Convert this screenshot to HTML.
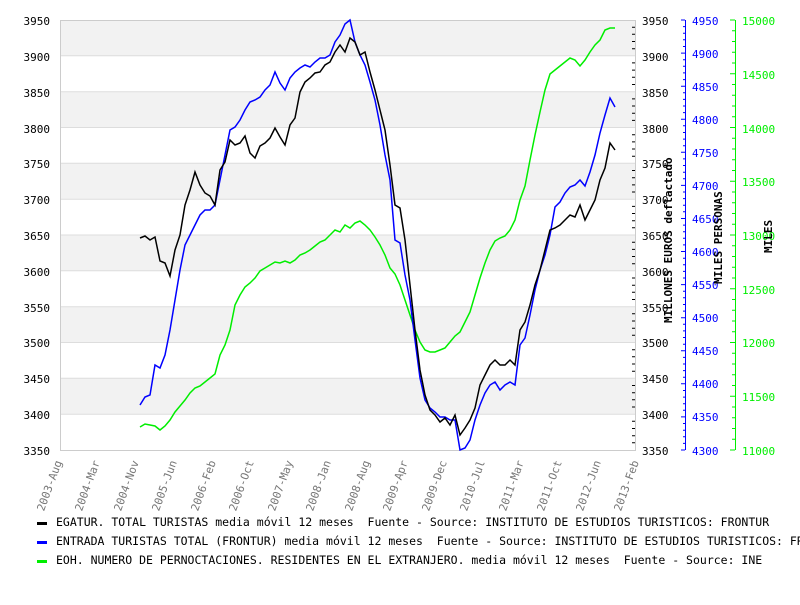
<!DOCTYPE html>
<html><head><meta charset="utf-8"><style>
body{margin:0;background:#fff;width:800px;height:600px;overflow:hidden}
text{font-family:"DejaVu Sans Mono","Liberation Mono",monospace;font-size:11px}
.lg{font-size:11.5px}
</style></head><body>
<svg width="800" height="600" viewBox="0 0 800 600" xmlns="http://www.w3.org/2000/svg">
<rect x="0" y="0" width="800" height="600" fill="#fff"/>
<g fill="#f2f2f2">
<rect x="60" y="20" width="575" height="35.8"/>
<rect x="60" y="91.7" width="575" height="35.8"/>
<rect x="60" y="163.3" width="575" height="35.8"/>
<rect x="60" y="235" width="575" height="35.8"/>
<rect x="60" y="306.7" width="575" height="35.8"/>
<rect x="60" y="378.3" width="575" height="35.8"/>
</g>
<g stroke="#ddd" stroke-width="1">
<line x1="60" y1="55.8" x2="635" y2="55.8"/><line x1="60" y1="91.7" x2="635" y2="91.7"/>
<line x1="60" y1="127.5" x2="635" y2="127.5"/><line x1="60" y1="163.3" x2="635" y2="163.3"/>
<line x1="60" y1="199.2" x2="635" y2="199.2"/><line x1="60" y1="235" x2="635" y2="235"/>
<line x1="60" y1="270.8" x2="635" y2="270.8"/><line x1="60" y1="306.7" x2="635" y2="306.7"/>
<line x1="60" y1="342.5" x2="635" y2="342.5"/><line x1="60" y1="378.3" x2="635" y2="378.3"/>
<line x1="60" y1="414.2" x2="635" y2="414.2"/>
</g>
<rect x="60.5" y="20.5" width="575" height="430" fill="none" stroke="#ccc"/>
<g text-anchor="end" fill="#000">
<text x="50" y="25">3950</text><text x="50" y="61">3900</text><text x="50" y="97">3850</text><text x="50" y="133">3800</text><text x="50" y="168">3750</text><text x="50" y="204">3700</text><text x="50" y="240">3650</text><text x="50" y="276">3600</text><text x="50" y="312">3550</text><text x="50" y="347">3500</text><text x="50" y="383">3450</text><text x="50" y="419">3400</text><text x="50" y="455">3350</text>
</g>
<g fill="#000">
<text x="642" y="25">3950</text><text x="642" y="61">3900</text><text x="642" y="97">3850</text><text x="642" y="133">3800</text><text x="642" y="168">3750</text><text x="642" y="204">3700</text><text x="642" y="240">3650</text><text x="642" y="276">3600</text><text x="642" y="312">3550</text><text x="642" y="347">3500</text><text x="642" y="383">3450</text><text x="642" y="419">3400</text><text x="642" y="455">3350</text>
</g>
<g stroke="#000">
<path d="M632 27.2h3M632 34.3h3M632 41.5h3M632 48.7h3M632 62.9h3M632 70.1h3M632 77.3h3M632 84.5h3M632 98.9h3M632 106h3M632 113.2h3M632 120.4h3M632 134.7h3M632 141.9h3M632 149h3M632 156.2h3M632 170.5h3M632 177.7h3M632 184.9h3M632 192h3M632 206.4h3M632 213.5h3M632 220.7h3M632 227.8h3M632 242.2h3M632 249.4h3M632 256.5h3M632 263.7h3M632 278h3M632 285.2h3M632 292.3h3M632 299.5h3M632 313.8h3M632 321h3M632 328.2h3M632 335.3h3M632 349.7h3M632 356.8h3M632 364h3M632 371.2h3M632 385.5h3M632 392.7h3M632 399.8h3M632 407h3M632 421.3h3M632 428.5h3M632 435.7h3M632 442.8h3"/>
</g>
<line x1="685.5" y1="20" x2="685.5" y2="450" stroke="#00f"/>
<g stroke="#00f"><path d="M681 20h4M681 53.1h4M681 86.2h4M681 119.2h4M681 152.3h4M681 185.4h4M681 218.5h4M681 251.5h4M681 284.6h4M681 317.7h4M681 350.8h4M681 383.8h4M681 416.9h4M681 450h4M683 26.6h2M683 33.2h2M683 39.8h2M683 46.5h2M683 59.7h2M683 66.3h2M683 72.9h2M683 79.6h2M683 92.8h2M683 99.4h2M683 106h2M683 112.6h2M683 125.8h2M683 132.5h2M683 139.1h2M683 145.7h2M683 158.9h2M683 165.5h2M683 172.2h2M683 178.8h2M683 192h2M683 198.6h2M683 205.2h2M683 211.8h2M683 225.1h2M683 231.7h2M683 238.3h2M683 244.9h2M683 258.2h2M683 264.8h2M683 271.4h2M683 278h2M683 291.2h2M683 297.8h2M683 304.5h2M683 311.1h2M683 324.3h2M683 330.9h2M683 337.5h2M683 344.2h2M683 357.4h2M683 364h2M683 370.6h2M683 377.2h2M683 390.5h2M683 397.1h2M683 403.7h2M683 410.3h2M683 423.5h2M683 430.2h2M683 436.8h2M683 443.4h2"/></g>
<g fill="#00f">
<text x="692" y="25">4950</text><text x="692" y="58">4900</text><text x="692" y="91">4850</text><text x="692" y="124">4800</text><text x="692" y="157">4750</text><text x="692" y="190">4700</text><text x="692" y="223">4650</text><text x="692" y="256">4600</text><text x="692" y="289">4550</text><text x="692" y="322">4500</text><text x="692" y="355">4450</text><text x="692" y="388">4400</text><text x="692" y="421">4350</text><text x="692" y="455">4300</text>
</g>
<line x1="735.5" y1="20" x2="735.5" y2="450" stroke="#0e0"/>
<g stroke="#0e0"><path d="M730 20h5M730 73.8h5M730 127.5h5M730 181.3h5M730 235h5M730 288.8h5M730 342.5h5M730 396.3h5M730 450h5M732 30.8h3M732 41.5h3M732 52.3h3M732 63h3M732 84.5h3M732 95.3h3M732 106h3M732 116.8h3M732 138.3h3M732 149h3M732 159.8h3M732 170.5h3M732 192h3M732 202.8h3M732 213.5h3M732 224.3h3M732 245.8h3M732 256.5h3M732 267.3h3M732 278h3M732 299.5h3M732 310.3h3M732 321h3M732 331.8h3M732 353.3h3M732 364h3M732 374.8h3M732 385.5h3M732 407h3M732 417.8h3M732 428.5h3M732 439.3h3"/></g>
<g fill="#0e0">
<text x="742" y="25">15000</text><text x="742" y="79">14500</text><text x="742" y="133">14000</text><text x="742" y="186">13500</text><text x="742" y="240">13000</text><text x="742" y="294">12500</text><text x="742" y="347">12000</text><text x="742" y="401">11500</text><text x="742" y="455">11000</text>
</g>
<text transform="translate(672,323) rotate(-90)" fill="#000" font-weight="bold">MILLONES EUROS deflactado</text>
<text transform="translate(722,284) rotate(-90)" fill="#000" font-weight="bold">MILES PERSONAS</text>
<text transform="translate(772,253) rotate(-90)" fill="#000" font-weight="bold">MILES</text>
<g fill="#777" text-anchor="end">
<text transform="translate(62,462) rotate(-70)">2003-Aug</text>
<text transform="translate(100,462) rotate(-70)">2004-Mar</text>
<text transform="translate(139,462) rotate(-70)">2004-Nov</text>
<text transform="translate(177,462) rotate(-70)">2005-Jun</text>
<text transform="translate(216,462) rotate(-70)">2006-Feb</text>
<text transform="translate(254,462) rotate(-70)">2006-Oct</text>
<text transform="translate(293,462) rotate(-70)">2007-May</text>
<text transform="translate(331,462) rotate(-70)">2008-Jan</text>
<text transform="translate(370,462) rotate(-70)">2008-Aug</text>
<text transform="translate(408,462) rotate(-70)">2009-Apr</text>
<text transform="translate(447,462) rotate(-70)">2009-Dec</text>
<text transform="translate(485,462) rotate(-70)">2010-Jul</text>
<text transform="translate(524,462) rotate(-70)">2011-Mar</text>
<text transform="translate(562,462) rotate(-70)">2011-Oct</text>
<text transform="translate(601,462) rotate(-70)">2012-Jun</text>
<text transform="translate(639,462) rotate(-70)">2013-Feb</text>
</g>
<polyline fill="none" stroke="#0e0" stroke-width="1.5" points="140,427 145,424 150,425 155,426 160,430 165,426 170,420 175,412 180,406 185,400 190,393 195,388 200,386 205,382 210,378 215,374 220,355 225,345 230,330 235,305 240,295 245,287 250,283 255,278 260,271 265,268 270,265 275,262 280,263 285,261 290,263 295,260 300,255 305,253 310,250 315,246 320,242 325,240 330,235 335,230 340,232 345,225 350,228 355,223 360,221 365,225 370,230 375,237 380,245 385,255 390,268 395,274 400,285 405,300 410,315 415,330 420,342 425,350 430,352 435,352 440,350 445,348 450,342 455,336 460,332 465,322 470,312 475,295 480,278 485,263 490,250 495,241 500,238 505,236 510,230 515,220 520,200 525,186 530,160 535,135 540,112 545,90 550,74 555,70 560,66 565,62 570,58 575,60 580,66 585,60 590,52 595,45 600,40 605,30 610,28 615,28"/>
<polyline fill="none" stroke="#00f" stroke-width="1.5" points="140,405 145,397 150,395 155,365 160,368 165,355 170,330 175,300 180,270 185,245 190,235 195,225 200,215 205,210 210,210 215,205 220,180 225,155 230,130 235,127 240,120 245,110 250,102 255,100 260,97 265,90 270,85 275,72 280,83 285,90 290,78 295,72 300,68 305,65 310,67 315,62 320,58 325,58 330,55 335,42 340,35 345,24 350,20 355,42 360,55 365,65 370,82 375,100 380,125 385,155 390,180 395,240 400,243 405,275 410,300 415,340 420,378 425,400 430,408 435,412 440,417 445,417 450,420 455,420 460,450 465,448 470,440 475,420 480,405 485,393 490,385 495,382 500,390 505,385 510,382 515,385 520,345 525,338 530,315 535,290 540,270 545,255 550,235 555,207 560,202 565,193 570,187 575,185 580,180 585,186 590,172 595,155 600,133 605,115 610,98 615,107"/>
<polyline fill="none" stroke="#000" stroke-width="1.5" points="140,238 145,236 150,240 155,237 160,261 165,263 170,276 175,250 180,235 185,205 190,190 195,172 200,185 205,193 210,196 215,205 220,170 225,162 230,140 235,145 240,143 245,136 250,153 255,158 260,146 265,143 270,138 275,128 280,137 285,145 290,125 295,118 300,92 305,82 310,78 315,73 320,72 325,65 330,62 335,52 340,45 345,52 350,38 355,42 360,55 365,52 370,72 375,90 380,110 385,130 390,165 395,205 400,208 405,240 410,285 415,330 420,370 425,395 430,410 435,415 440,422 445,418 450,425 455,415 460,435 465,428 470,420 475,408 480,385 485,375 490,365 495,360 500,365 505,365 510,360 515,365 520,330 525,322 530,305 535,285 540,270 545,250 550,230 555,228 560,225 565,220 570,215 575,217 580,205 585,220 590,210 595,200 600,180 605,168 610,143 615,150"/>
<rect x="37" y="522" width="10" height="3" fill="#000"/>
<rect x="37" y="541" width="10" height="3" fill="#00f"/>
<rect x="37" y="560" width="10" height="3" fill="#0e0"/>
<g fill="#000" class="lg">
<text class="lg" x="56" y="526" xml:space="preserve">EGATUR. TOTAL TURISTAS media móvil 12 meses  Fuente - Source: INSTITUTO DE ESTUDIOS TURISTICOS: FRONTUR</text>
<text class="lg" x="56" y="545" xml:space="preserve">ENTRADA TURISTAS TOTAL (FRONTUR) media móvil 12 meses  Fuente - Source: INSTITUTO DE ESTUDIOS TURISTICOS: FRONTUR</text>
<text class="lg" x="56" y="564" xml:space="preserve">EOH. NUMERO DE PERNOCTACIONES. RESIDENTES EN EL EXTRANJERO. media móvil 12 meses  Fuente - Source: INE</text>
</g>
</svg>
</body></html>
